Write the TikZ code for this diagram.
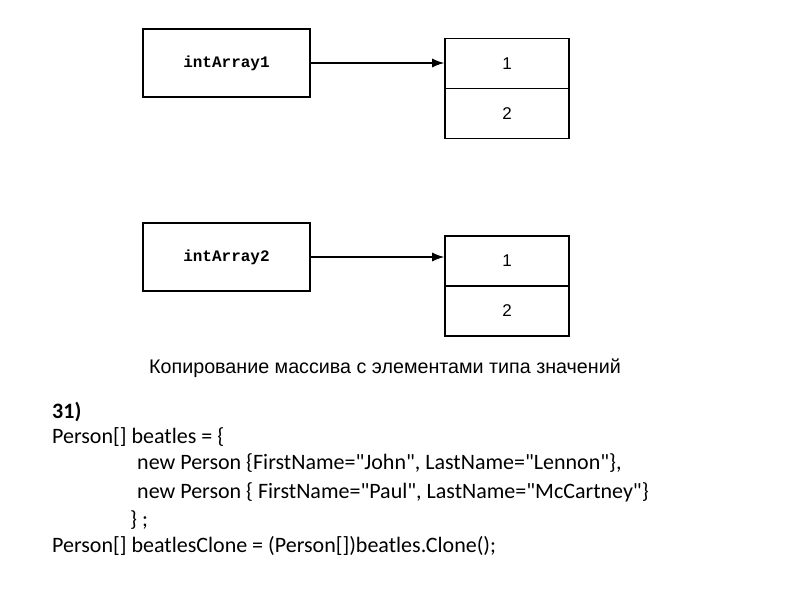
\documentclass[tikz,border=0pt]{standalone}
\usepackage{fontspec}
\setmainfont{Carlito}[Ligatures=TeXOff]
\newfontfamily\capfont{Liberation Sans}
\newfontfamily\monofont{Liberation Mono}
\usetikzlibrary{arrows.meta}
\begin{document}
\begin{tikzpicture}[x=1pt,y=-1pt,
  varbox/.style={draw,line width=1.6pt,minimum width=167pt,minimum height=68pt,inner sep=0pt,font=\monofont\bfseries\fontsize{16}{18}\selectfont},
  cell/.style={draw,line width=1.6pt,minimum width=124pt,minimum height=50pt,inner sep=0pt,font=\capfont\fontsize{17}{19}\selectfont},
  ptr/.style={line width=1.2pt,-{Latex[length=12pt,width=9pt]}},
  codeline/.style={anchor=west,inner sep=0pt,font=\fontsize{22}{24}\selectfont}]
\useasboundingbox (0,0) rectangle (800,600);
\node[varbox] (v1) at (226.5,63) {intArray1};
\node[cell] (a1) at (507,63.5) {1};
\node[cell] (b1) at (507,113.5) {2};
\draw[ptr] (v1.east) -- (v1.east -| a1.west);
\node[varbox] (v2) at (226.5,257) {intArray2};
\node[cell] (a2) at (507,261) {1};
\node[cell] (b2) at (507,311) {2};
\draw[ptr] (v2.east) -- (v2.east -| a2.west);
\node[font=\capfont\fontsize{19.7}{22}\selectfont,inner sep=0pt] (cap) at (385,368) {Копирование массива с элементами типа значений};
\node[codeline,font=\bfseries\fontsize{22}{24}\selectfont] (l0) at (52,412) {31)};
\node[codeline] (l1) at (52,437) {Person[] beatles = \{};
\node[codeline] (l2) at (137,463) {new Person \{FirstName="John", LastName="Lennon"\},};
\node[codeline] (l3) at (137,492) {new Person \{ FirstName="Paul", LastName="McCartney"\}};
\node[codeline] (l4) at (130,520) {\} ;};
\node[codeline] (l5) at (52,546) {Person[] beatlesClone = (Person[])beatles.Clone();};
\end{tikzpicture}
\end{document}
